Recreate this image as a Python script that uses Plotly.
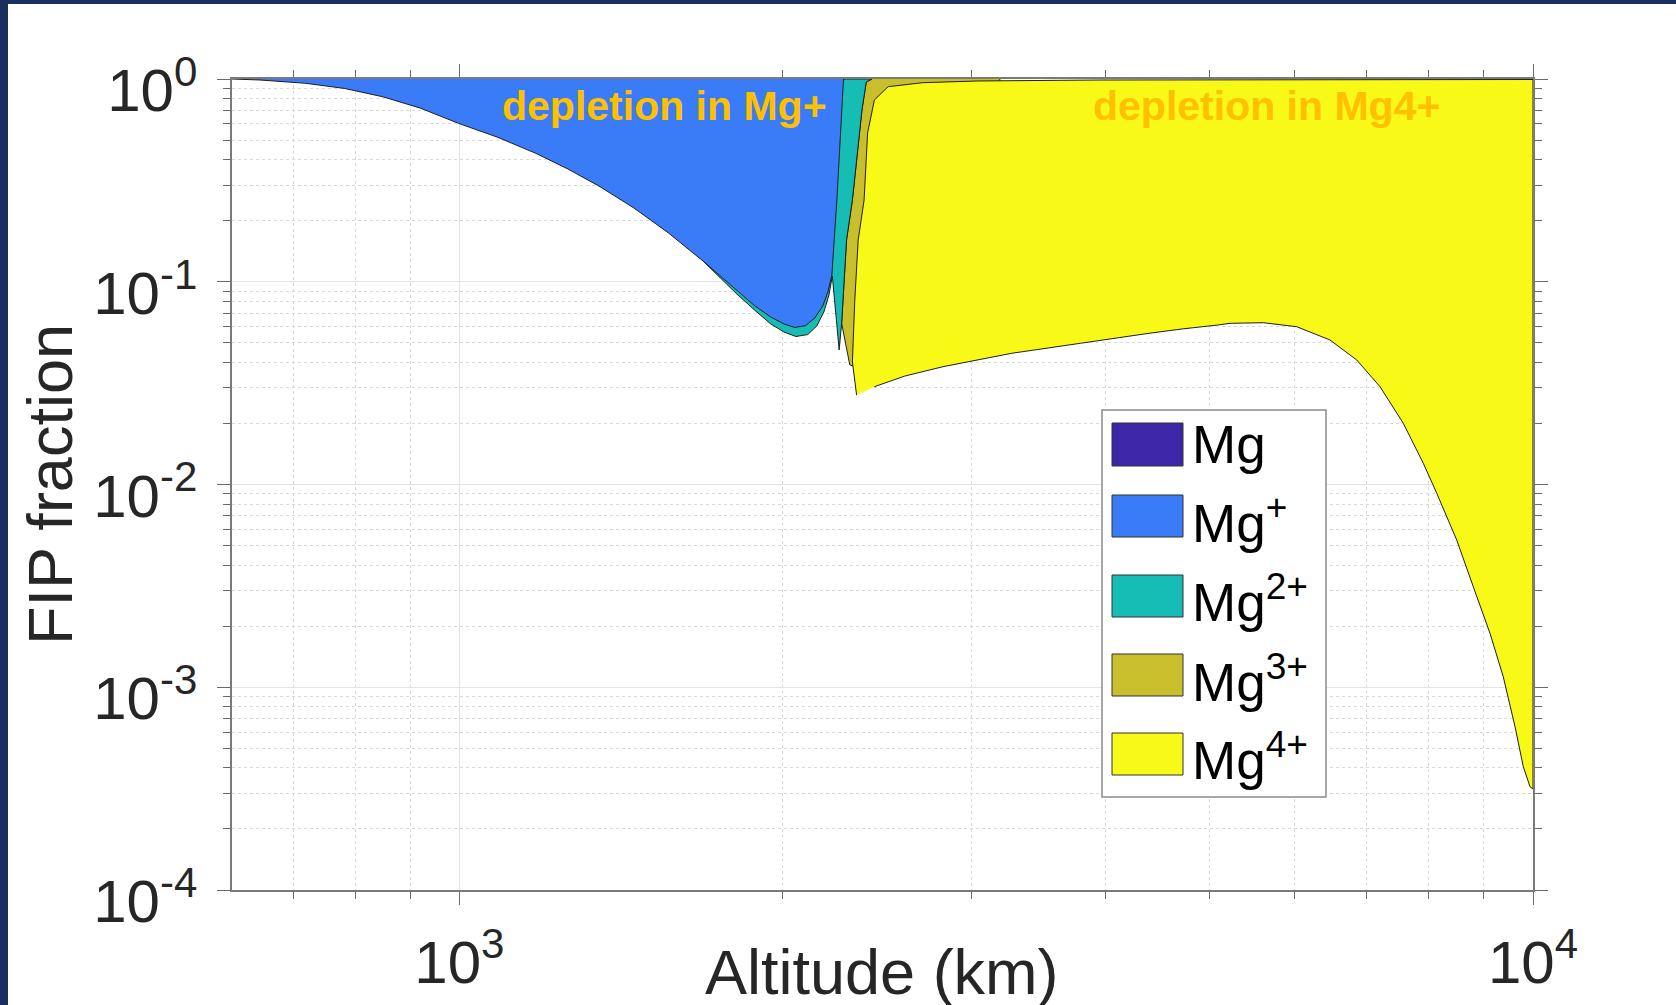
import math
import plotly.graph_objects as go

# ---------------- data ----------------
species = ["Mg", "Mg<sup>+</sup>", "Mg<sup>2+</sup>", "Mg<sup>3+</sup>", "Mg<sup>4+</sup>"]
colors = ["#3D26A8", "#3A7CF8", "#16BDB4", "#C9BF2C", "#F8F916"]

# Mg+ band (blue): lower boundary, then its right edge up to 1
mgp_alt = [614, 652, 719, 782, 848, 919, 998, 1084, 1178, 1262, 1352, 1454, 1566, 1686,
           1825, 1885, 1950, 2006, 2053, 2102, 2143, 2180, 2204, 2223, 2247, 2266, 2279]
mgp_frac = [1.0, 0.9887, 0.9524, 0.8978, 0.8178, 0.7194, 0.6044, 0.5175, 0.4300, 0.3598,
            0.2943, 0.2311, 0.1739, 0.1266, 0.0880, 0.0759, 0.0670, 0.0619, 0.0595, 0.0608,
            0.0663, 0.0759, 0.0890, 0.1080, 0.2530, 0.5604, 1.0]

# Mg2+ band (teal)
mg2_alt = [1686, 1813, 1885, 1950, 2006, 2058, 2111, 2152, 2185, 2209, 2225, 2258, 2270,
           2294, 2323, 2350, 2371, 2393, 2422, 1686]
mg2_frac = [0.1266, 0.0870, 0.0722, 0.0619, 0.0565, 0.0537, 0.0549, 0.0605, 0.0709, 0.0860,
            0.1068, 0.0461, 0.0624, 0.1607, 0.2530, 0.4465, 0.7032, 0.9665, 1.0, 1.0]

# Mg3+ band (olive)
mg3_alt = [2422, 2393, 2371, 2350, 2323, 2294, 2270, 2310, 2412, 3187, 3187]
mg3_frac = [1.0, 0.9665, 0.7032, 0.4465, 0.2530, 0.1607, 0.0624, 0.0389, 0.0359, 0.0813, 1.0]

# Mg4+ band (yellow)
mg4_alt = [2344, 2323, 2335, 2352, 2382, 2400, 2435, 2508, 2701, 3037, 3950, 10000,
           10000, 9936, 9794, 9622, 9382, 9119, 8798, 8491, 8135, 7904, 7572, 7203, 6852,
           6470, 6025, 5608, 5222, 5084, 4721, 4388, 3787, 3268, 2821, 2600, 2435]
mg4_frac = [0.0276, 0.0402, 0.0813, 0.1607, 0.2530, 0.5416, 0.7877, 0.9163, 0.9589, 0.9776,
            0.9887, 0.9943, 0.000315, 0.000323, 0.000406, 0.000639, 0.001127, 0.001845,
            0.003132, 0.005324, 0.009049, 0.01272, 0.02003, 0.03036, 0.04112, 0.05161,
            0.06001, 0.0628, 0.06237, 0.06117, 0.05857, 0.05568, 0.04970, 0.04437, 0.03811,
            0.03428, 0.03036]

x_tickvals = [1000, 10000]
x_ticktext = ["10<sup>3</sup>", "10<sup>4</sup>"]
y_tickvals = [1e-4, 1e-3, 1e-2, 1e-1, 1]
y_ticktext = ["10<sup>-4</sup>", "10<sup>-3</sup>", "10<sup>-2</sup>", "10<sup>-1</sup>", "10<sup>0</sup>"]
x_min = 614
annot_texts = ["depletion in Mg+", "depletion in Mg4+"]

# ---------------- layout geometry (pixels) ----------------
W, H = 1676, 1005
L, R, T, B = 232, 1533, 79, 890


def px2x(px):
    return (px - L) / (R - L)


def py2y(py):
    return (B - py) / (B - T)


FONT = "Liberation Sans, Arial, Helvetica, sans-serif"
EDGE = "#1e1e1e"

fig = go.Figure()
# draw order: olive, yellow, teal, blue (later ones cover earlier)
for xs, ys, ci in [(mg3_alt, mg3_frac, 3), (mg4_alt, mg4_frac, 4),
                   (mg2_alt, mg2_frac, 2), (mgp_alt, mgp_frac, 1)]:
    fig.add_trace(go.Scatter(x=xs, y=ys, mode="lines", fill="toself",
                             fillcolor=colors[ci], line=dict(color=EDGE, width=1),
                             name=species[ci], showlegend=False, hoverinfo="skip"))

minor_y = [k * 10 ** e for e in range(-4, 0) for k in range(2, 10)]
minor_x = [700, 800, 900] + [k * 1000 for k in range(2, 10)]

axis_common = dict(
    type="log", showline=True, linecolor="#7a7a7a", linewidth=1.5, mirror="allticks",
    ticks="outside", ticklen=13, tickwidth=1.3, tickcolor="#6a6a6a",
    showgrid=True, gridcolor="#e4e4e4", gridwidth=1, zeroline=False, automargin=False,
    tickfont=dict(family=FONT, size=60, color="#262626"), tickmode="array",
)

fig.update_xaxes(**axis_common, range=[math.log10(x_min), 4],
                 tickvals=x_tickvals, ticktext=x_ticktext, ticklabelstandoff=6,
                 minor=dict(tickmode="array", tickvals=minor_x, ticks="outside", ticklen=7,
                            tickwidth=1.2, tickcolor="#6a6a6a", showgrid=True,
                            gridcolor="#d9d9d9", griddash="dot", gridwidth=1))
fig.update_yaxes(**axis_common, range=[-4, 0],
                 tickvals=y_tickvals, ticktext=y_ticktext, ticklabelstandoff=8,
                 ticklabelshift=11,
                 minor=dict(tickmode="array", tickvals=minor_y, ticks="outside", ticklen=7,
                            tickwidth=1.2, tickcolor="#6a6a6a", showgrid=True,
                            gridcolor="#d9d9d9", griddash="dot", gridwidth=1))

shapes = []
NAVY = "#1B2F5E"
# navy frame strips (left and top), kept inside the page
shapes.append(dict(type="rect", xref="paper", yref="paper", x0=px2x(0), x1=px2x(8),
                   y0=py2y(H), y1=py2y(0), fillcolor=NAVY, line=dict(width=0), layer="above"))
shapes.append(dict(type="rect", xref="paper", yref="paper", x0=px2x(0), x1=px2x(W),
                   y0=py2y(4), y1=py2y(0), fillcolor=NAVY, line=dict(width=0), layer="above"))

# custom legend
shapes.append(dict(type="rect", xref="paper", yref="paper", x0=px2x(1102), x1=px2x(1326),
                   y0=py2y(797), y1=py2y(410), fillcolor="white",
                   line=dict(color="#8a8a8a", width=1.5), layer="above"))
sw_y = [(423, 466), (495, 537), (575, 617), (654, 696), (733, 775)]
txt_base = [464, 543, 622, 702, 780]
annotations = []
for i, name in enumerate(species):
    y0, y1 = sw_y[i]
    shapes.append(dict(type="rect", xref="paper", yref="paper", x0=px2x(1112), x1=px2x(1183),
                       y0=py2y(y1), y1=py2y(y0), fillcolor=colors[i],
                       line=dict(color="#333333", width=1), layer="above"))
    annotations.append(dict(text=name, xref="paper", yref="paper", x=px2x(1190),
                            y=py2y(txt_base[i] + 12), xanchor="left", yanchor="bottom",
                            showarrow=False, font=dict(family=FONT, size=53, color="black")))

# region labels
for txt, lx in zip(annot_texts, [500, 1091]):
    annotations.append(dict(text=txt, xref="paper", yref="paper", x=px2x(lx), y=py2y(131),
                            xanchor="left", yanchor="bottom", showarrow=False,
                            font=dict(family=FONT, size=41, color="#FFC000", weight="bold")))

# axis titles
annotations.append(dict(text="Altitude (km)", xref="paper", yref="paper", x=px2x(882),
                        y=py2y(972), xanchor="center", yanchor="middle", showarrow=False,
                        font=dict(family=FONT, size=63, color="#262626")))
annotations.append(dict(text="FIP fraction", xref="paper", yref="paper", x=px2x(50),
                        y=py2y(485), xanchor="center", yanchor="middle", showarrow=False,
                        textangle=-90, font=dict(family=FONT, size=63, color="#262626")))

fig.update_layout(
    width=W, height=H, autosize=False,
    margin=dict(l=L, r=W - R, t=T, b=H - B, pad=0, autoexpand=False),
    paper_bgcolor="white", plot_bgcolor="white",
    shapes=shapes, annotations=annotations, showlegend=False,
)

fig.write_html("out.html")
